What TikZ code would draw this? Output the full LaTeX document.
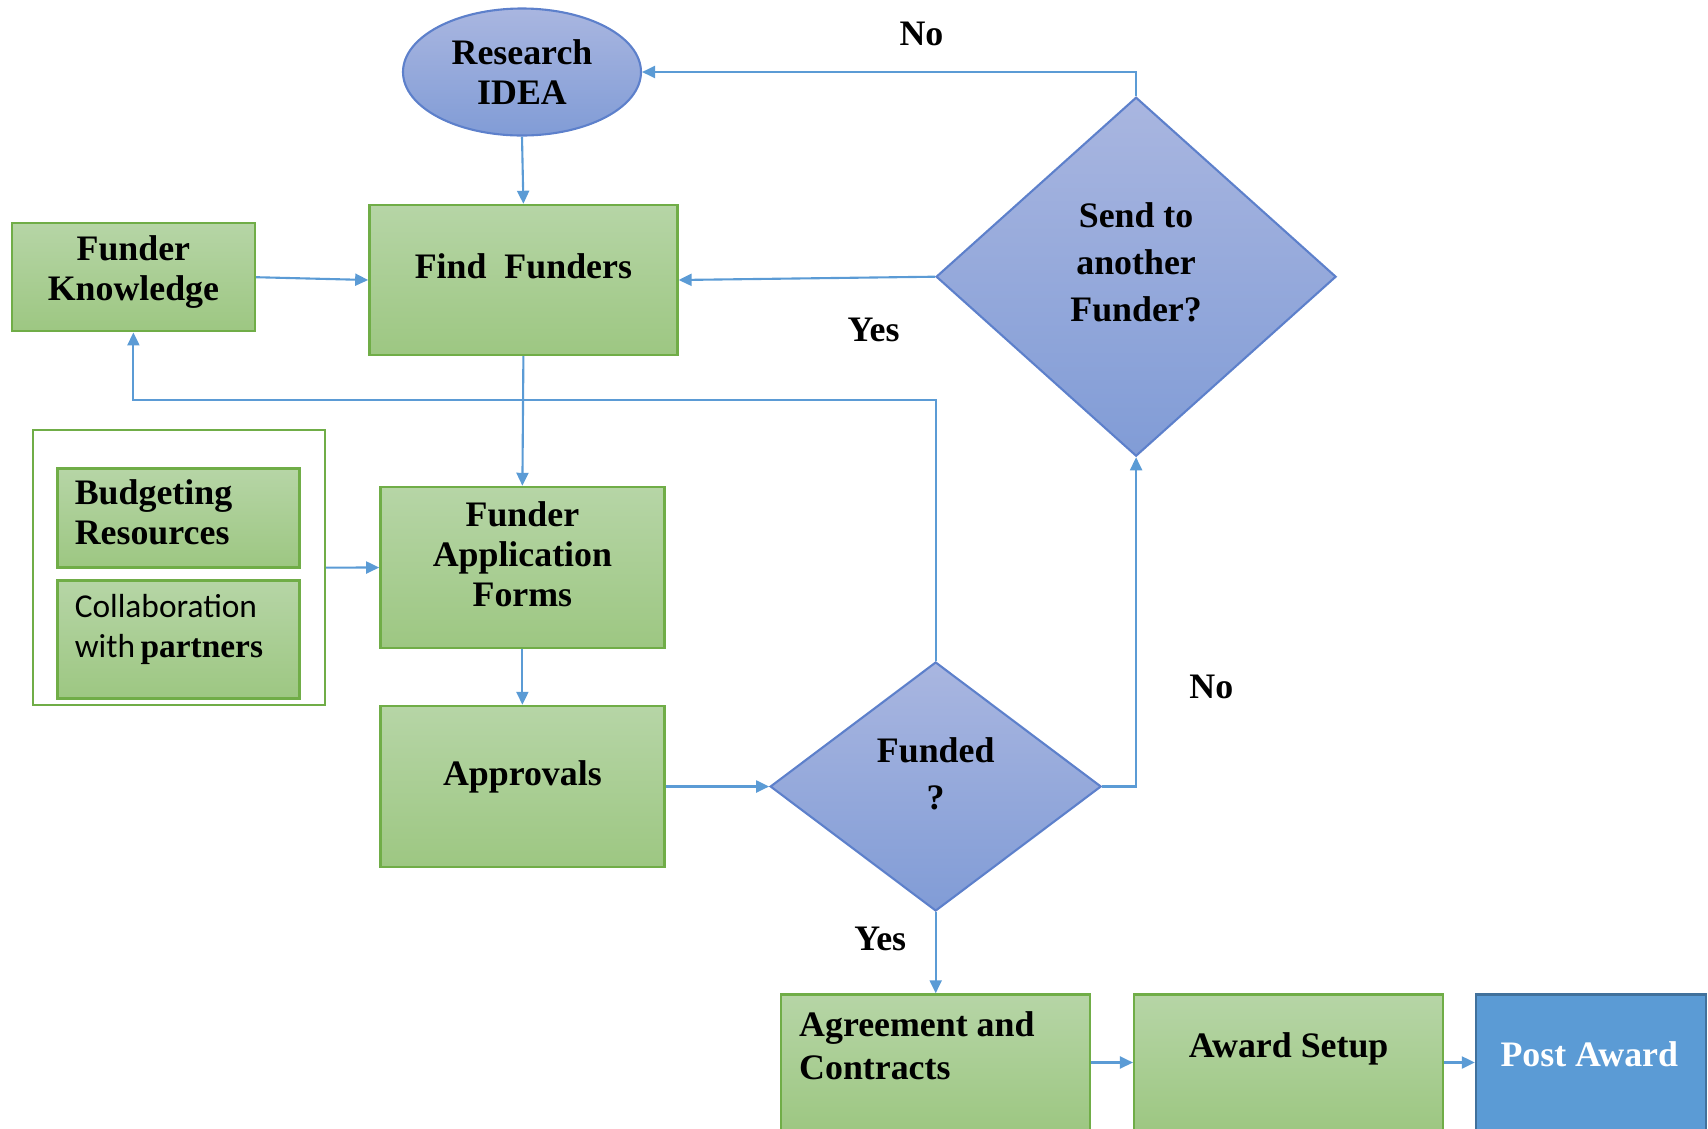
\documentclass[tikz,border=0pt]{standalone}
\usepackage{fontspec}
\setmainfont{Liberation Serif}
\newfontfamily\calibrifont{Carlito}
\usetikzlibrary{shapes.geometric, arrows.meta, positioning, calc}
\definecolor{boxgreentop}{RGB}{182,213,166}
\definecolor{boxgreenbottom}{RGB}{157,199,130}
\definecolor{boxgreenline}{RGB}{112,173,71}
\definecolor{decbluetop}{RGB}{169,182,224}
\definecolor{decbluebottom}{RGB}{129,156,214}
\definecolor{decblueline}{RGB}{93,128,203}
\definecolor{arrowblue}{RGB}{91,155,213}
\definecolor{postblue}{RGB}{91,155,213}
\definecolor{postline}{RGB}{65,113,156}

\begin{document}
\begin{tikzpicture}[
		greenbox/.style={rectangle, draw=boxgreenline, line width=0.7pt, top color=boxgreentop, bottom color=boxgreenbottom, inner sep=0pt},
		bluedec/.style={diamond, draw=decblueline, line width=0.6pt, top color=decbluetop, bottom color=decbluebottom, inner sep=0pt},
		startnode/.style={ellipse, draw=decblueline, line width=0.6pt, top color=decbluetop, bottom color=decbluebottom, inner sep=0pt, align=center, font=\fontsize{10.2}{11.4}\selectfont\bfseries},
		txt/.style={align=center, inner sep=0pt, font=\fontsize{10.2}{11.4}\selectfont\bfseries},
		dectxt/.style={align=center, inner sep=0pt, font=\fontsize{10.2}{13.4}\selectfont\bfseries},
		lefttxt/.style={align=left, anchor=west, inner sep=0pt, font=\fontsize{10.2}{11.4}\selectfont\bfseries},
		answer/.style={inner sep=0pt, font=\fontsize{10.2}{11.4}\selectfont\bfseries},
		arrow/.style={-{Triangle[length=1.3mm,width=1.2mm]}, line width=0.6pt, draw=arrowblue}
	]
	\useasboundingbox (0,0) rectangle (17.08,-11.28);
	\clip (0,0) rectangle (17.08,-11.28);

	% Start
	\node (idea) [startnode, minimum width=2.38cm, minimum height=1.27cm] at (5.22,-0.72) {Research\\IDEA};

	% Finding funders
	\node (find) [greenbox, minimum width=3.08cm, minimum height=1.5cm] at (5.234,-2.80) {};
	\node (findtxt) [txt] at (5.234,-2.66) {Find\enspace Funders};
	\node (know) [greenbox, minimum width=2.43cm, minimum height=1.08cm] at (1.334,-2.772) {};
	\node (knowtxt) [txt] at (1.334,-2.72) {Funder\\Knowledge};

	% Application inputs
	\node (frame) [rectangle, draw=boxgreenline, line width=0.6pt, minimum width=2.92cm, minimum height=2.745cm] at (1.787,-5.676) {};
	\node (budget) [greenbox, minimum width=2.42cm, minimum height=0.99cm] at (1.787,-5.18) {};
	\node (budgettxt) [lefttxt] at (0.741,-5.125) {Budgeting\\Resources};
	\node (collab) [greenbox, minimum width=2.42cm, minimum height=1.18cm] at (1.787,-6.394) {};
	\node (collabtxt) [lefttxt, font=\fontsize{9.5}{11.4}\selectfont] at (0.741,-6.29) {{\calibrifont Collaboration}\\{\calibrifont with}\,{\bfseries partners}};

	% Application and approvals
	\node (app) [greenbox, minimum width=2.84cm, minimum height=1.61cm] at (5.224,-5.675) {};
	\node (apptxt) [txt] at (5.224,-5.545) {Funder\\Application\\Forms};
	\node (appr) [greenbox, minimum width=2.84cm, minimum height=1.61cm] at (5.224,-7.865) {};
	\node (apprtxt) [txt] at (5.224,-7.767) {Approvals};

	% Decisions
	\node (funded) [bluedec, minimum width=3.31cm, minimum height=2.49cm] at (9.357,-7.865) {};
	\node (fundedtxt) [dectxt] at (9.357,-7.734) {Funded\\?};
	\node (send) [bluedec, minimum width=4.0cm, minimum height=3.59cm] at (11.361,-2.767) {};
	\node (sendtxt) [dectxt] at (11.361,-2.625) {Send to\\another\\Funder?};

	% Award
	\node (agree) [greenbox, minimum width=3.09cm, minimum height=1.36cm] at (9.357,-10.625) {};
	\node (agreetxt) [lefttxt, font=\fontsize{10.2}{12.4}\selectfont\bfseries] at (7.985,-10.457) {Agreement and\\Contracts};
	\node (award) [greenbox, minimum width=3.09cm, minimum height=1.36cm] at (12.887,-10.625) {};
	\node (awardtxt) [txt] at (12.887,-10.49) {Award Setup};
	\node (post) [rectangle, draw=postline, line width=0.6pt, fill=postblue, minimum width=2.30cm, minimum height=1.36cm] at (15.909,-10.625) {};
	\node (posttxt) [txt, text=white] at (15.893,-10.544) {Post Award};

	% Answers
	\node (notop) [answer] at (9.215,-0.338) {No};
	\node (yestop) [answer] at (8.736,-3.30) {Yes};
	\node (noright) [answer] at (12.113,-6.873) {No};
	\node (yesdown) [answer] at (8.802,-9.39) {Yes};

	\coordinate (loop) at (1.334,-3.998);

	% Connectors
	\draw [arrow] (idea.south) -- (find.north);
	\draw [arrow] (know.east) -- (find.west);
	\draw [arrow] (send.west) -- (find.east);
	\draw [arrow] (send.north) |- (idea.east);
	\draw [arrow] (find.south) -- (app.north);
	\draw [arrow] (funded.north) |- (loop) -- (know.south);
	\draw [arrow] (frame.east) -- (app.west);
	\draw [arrow] (app.south) -- (appr.north);
	\draw [arrow] (appr.east) -- (funded.west);
	\draw [arrow] (funded.east) -| (send.south);
	\draw [arrow] (funded.south) -- (agree.north);
	\draw [arrow] (agree.east) -- (award.west);
	\draw [arrow] (award.east) -- (post.west);

\end{tikzpicture}
\end{document}
